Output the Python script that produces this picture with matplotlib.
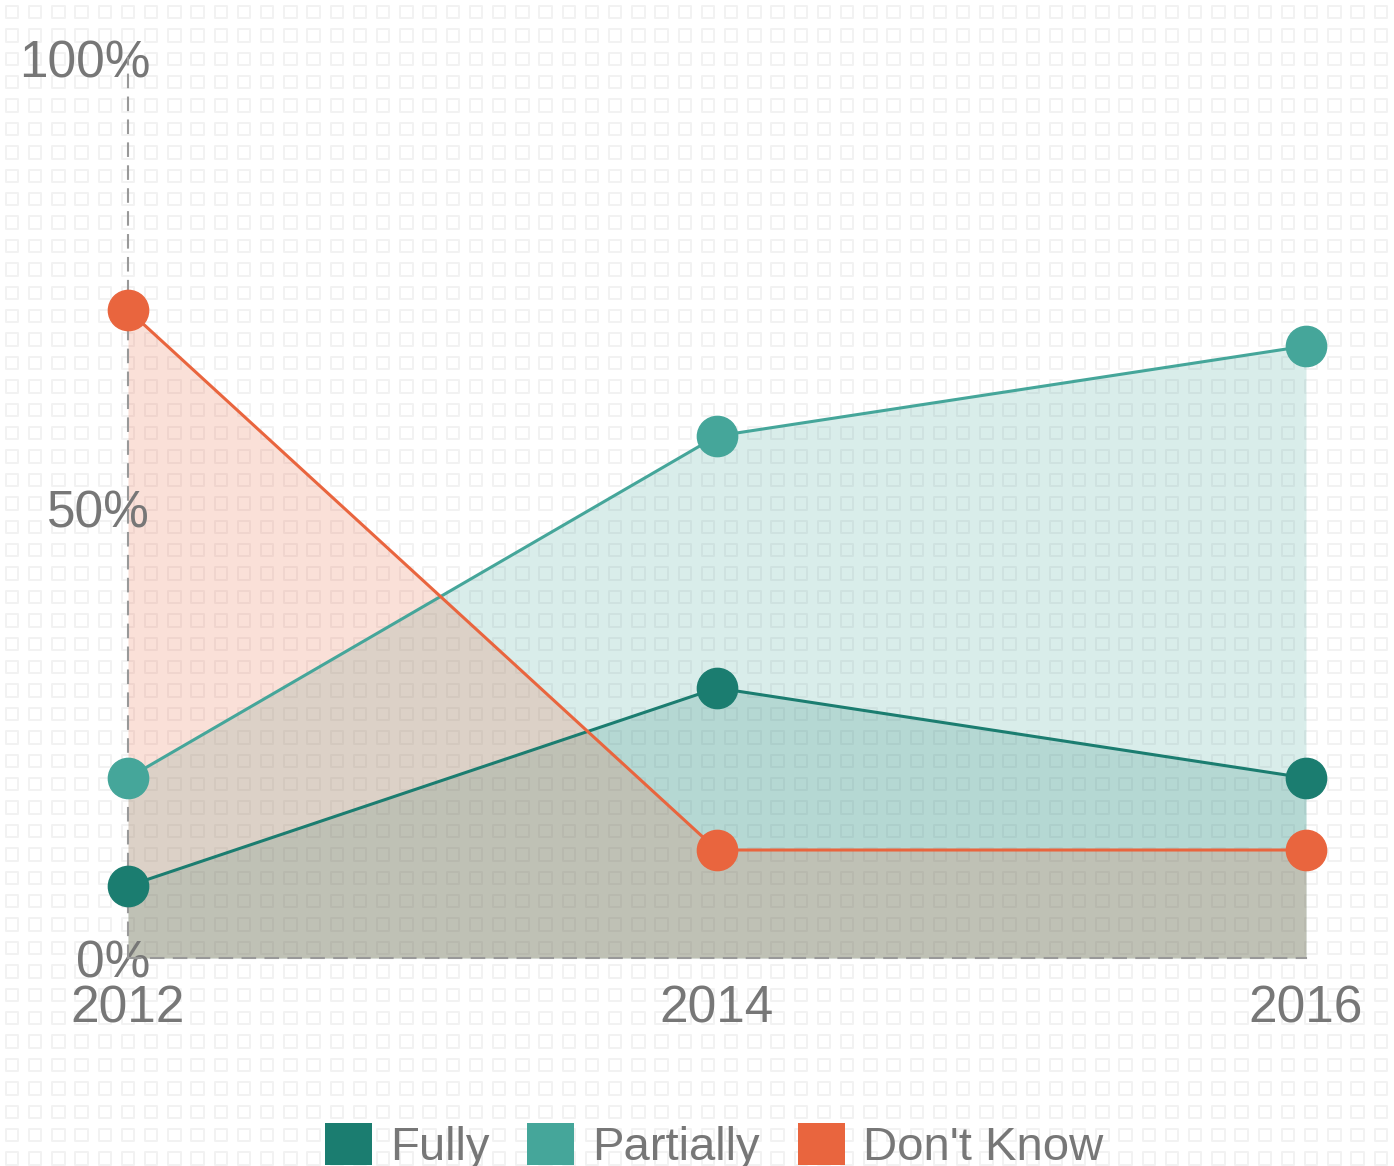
import numpy as np
import matplotlib.pyplot as plt
from matplotlib.patches import Patch

# datos
years = [2012, 2014, 2016]
fully = [8, 30, 20]
partially = [20, 58, 68]
dont_know = [72, 12, 12]
series = ["Fully", "Partially", "Don't Know"]
colors = ["#1b7d70", "#45a69a", "#e9653e"]
ytick_vals = [0, 50, 100]
ytick_labels = ["0%", "50%", "100%"]

plt.rcParams['font.family'] = ['Liberation Sans', 'DejaVu Sans']

fig = plt.figure(figsize=(13.94, 11.66), dpi=100)

# fondo con patron de cuadraditos
bg = fig.add_axes([0, 0, 1, 1], zorder=0)
bg.set_xlim(0, 1394)
bg.set_ylim(1166, 0)
bg.axis('off')
gx, gy = np.meshgrid(np.arange(12, 1394, 23.2), np.arange(12, 1166, 23.4))
bg.scatter(gx.ravel(), gy.ravel(), s=80, marker='s', facecolor='none',
           edgecolor='#f2f2f2', linewidth=1.4)

ax = fig.add_axes([128/1394, 1 - 958/1166, (1306-128)/1394, 900/1166], zorder=1)
ax.patch.set_alpha(0)

for vals, col in zip([fully, partially, dont_know], colors):
    ax.fill_between(years, 0, vals, color=col, alpha=0.2, linewidth=0)
for vals, col in zip([fully, partially, dont_know], colors):
    ax.plot(years, vals, color=col, linewidth=2.2, marker='o', markersize=29,
            clip_on=False, zorder=3)

ax.set_xlim(2012, 2016)
ax.set_ylim(0, 100)
for s in ['top', 'right']:
    ax.spines[s].set_visible(False)
for s in ['left', 'bottom']:
    ax.spines[s].set_linestyle((0, (6, 5)))
    ax.spines[s].set_color('#999999')
    ax.spines[s].set_linewidth(1.5)

ax.set_xticks(years)
ax.set_xticklabels([str(y) for y in years])
ax.set_yticks(ytick_vals)
ax.set_yticklabels(ytick_labels)
ax.tick_params(length=0, labelsize=37, labelcolor='#777777')
ax.tick_params(axis='x', pad=19)
ax.tick_params(axis='y', pad=-16)

handles = [Patch(facecolor=c, edgecolor='none') for c in colors]
fig.legend(handles, series, loc='upper center', bbox_to_anchor=(0.512, 0.037),
           ncol=3, frameon=False, fontsize=34, handlelength=1.0, handleheight=1.0,
           handletextpad=0.38, columnspacing=0.8, labelcolor='#777777',
           borderaxespad=0, borderpad=0)

fig.savefig('out.png', dpi=100)
